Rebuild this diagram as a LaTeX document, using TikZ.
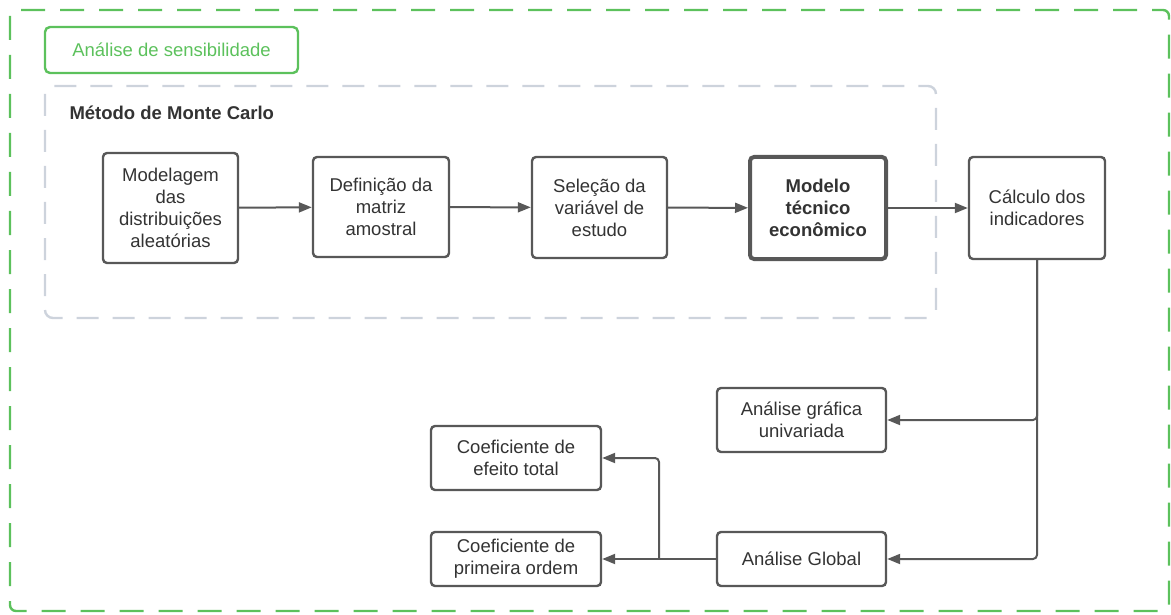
\documentclass[tikz,border=0pt]{standalone}
\usepackage{fontspec}
\setmainfont{Liberation Sans}
\usetikzlibrary{arrows.meta}

\definecolor{framegreen}{HTML}{5CC15C}
\definecolor{framegray}{HTML}{CDD3DC}
\definecolor{boxgray}{HTML}{585858}
\definecolor{textgray}{HTML}{333333}

\tikzset{
    stagebox/.style={draw=boxgray, line width=2.4pt, rounded corners=4pt, fill=white,
        align=center, inner sep=2pt, text=textgray,
        font=\fontsize{18.5}{22}\selectfont},
    flow/.style={draw=boxgray, line width=2pt, rounded corners=4pt,
        -{Triangle[length=13pt, width=10pt]}}
}

\begin{document}
\begin{tikzpicture}[x=1pt, y=-1pt]
        \useasboundingbox (0,0) rectangle (1171,615);

        % moldura externa e grupo de Monte Carlo
        \draw[framegreen, line width=2.4pt, dash pattern=on 24pt off 15pt, rounded corners=6pt]
            (10,10) rectangle (1169,611);
        \draw[framegray, line width=2.4pt, dash pattern=on 22pt off 14pt, rounded corners=8pt]
            (45,86) rectangle (936,318);

        \node[draw=framegreen, line width=2.4pt, rounded corners=5pt, minimum width=253pt,
            minimum height=46pt, text=framegreen, font=\fontsize{18.5}{22}\selectfont]
            (sens) at (171.5,50) {Análise de sensibilidade};
        \node[anchor=west, text=textgray, font=\fontsize{18.5}{22}\selectfont\bfseries]
            (mc) at (66,113) {Método de Monte Carlo};

        % etapas
        \node[stagebox, minimum width=135pt, minimum height=110pt] (dist) at (170.5,208)
            {Modelagem\\das\\distribuições\\aleatórias};
        \node[stagebox, minimum width=136pt, minimum height=100pt] (matriz) at (381,207)
            {Definição da\\matriz\\amostral};
        \node[stagebox, minimum width=135pt, minimum height=101pt] (var) at (599.5,207.5)
            {Seleção da\\variável de\\estudo};
        \node[stagebox, line width=4pt, minimum width=136pt, minimum height=102pt,
            font=\fontsize{18.5}{22}\selectfont\bfseries] (modelo) at (818,208)
            {Modelo\\técnico\\econômico};
        \node[stagebox, minimum width=136pt, minimum height=102pt] (calc) at (1037,208)
            {Cálculo dos\\indicadores};

        \node[stagebox, minimum width=169pt, minimum height=64pt] (graf) at (801.5,420)
            {Análise gráfica\\univariada};
        \node[stagebox, minimum width=169pt, minimum height=54pt] (glob) at (801.5,559)
            {Análise Global};
        \node[stagebox, minimum width=170pt, minimum height=64pt] (total) at (516,458)
            {Coeficiente de\\efeito total};
        \node[stagebox, minimum width=170pt, minimum height=54pt] (prim) at (516,559)
            {Coeficiente de\\primeira ordem};

        % conexões
        \draw[flow] (dist) -- (matriz);
        \draw[flow] (matriz) -- (var);
        \draw[flow] (var) -- (modelo);
        \draw[flow] (modelo) -- (calc);
        \draw[flow] (calc.south) |- (graf.east);
        \draw[flow] (calc.south) |- (glob.east);
        \draw[flow] (glob.west) -- (prim.east);
        \coordinate (split) at (659,559);
        \draw[flow] (split) |- (total.east);
    \end{tikzpicture}
\end{document}
